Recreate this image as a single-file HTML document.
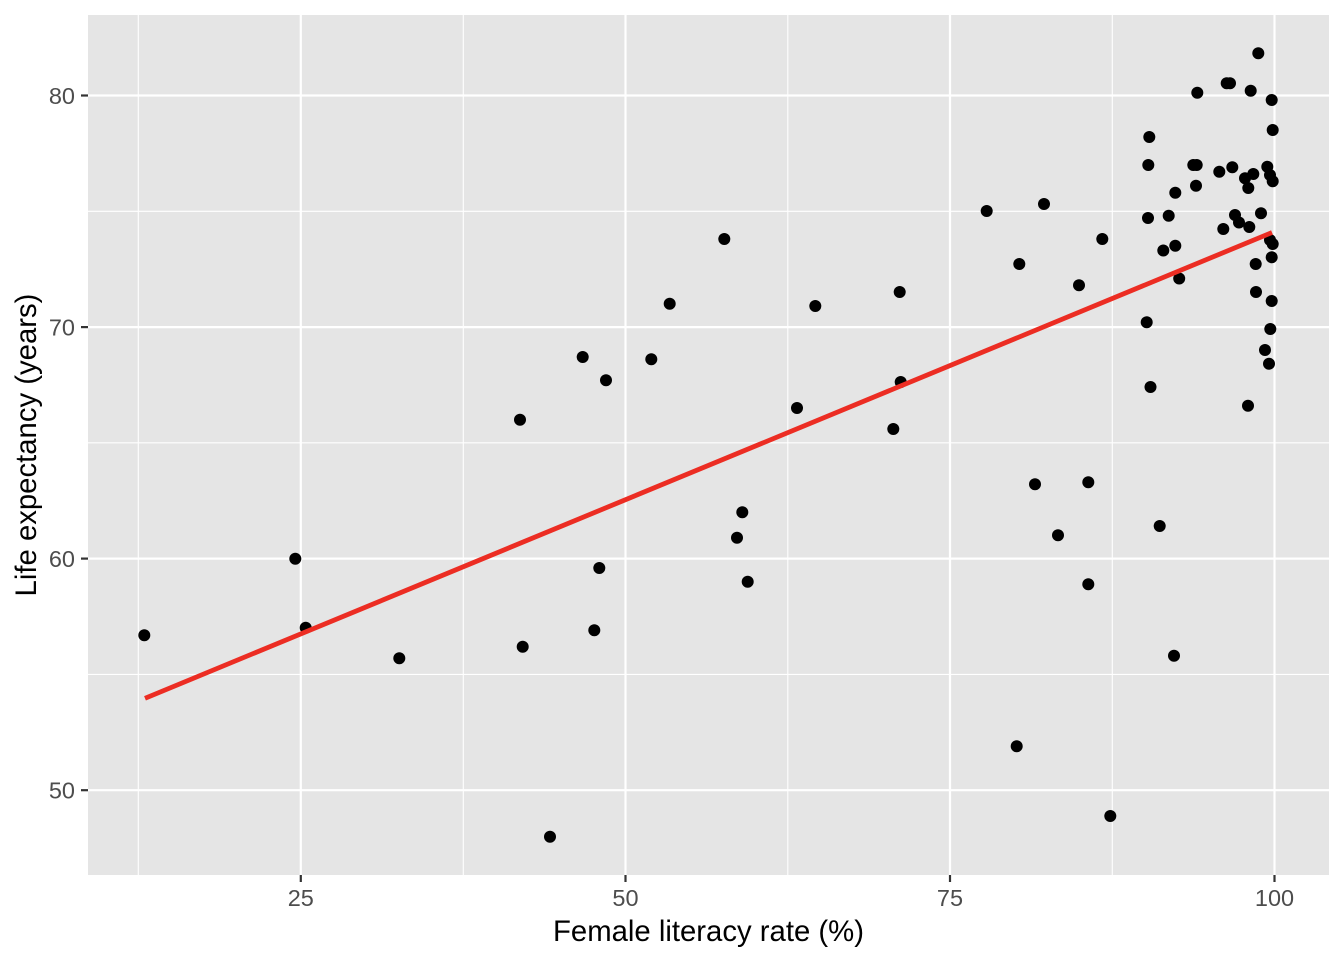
<!DOCTYPE html>
<html>
<head>
<meta charset="utf-8">
<style>
  html, body { margin: 0; padding: 0; background: #ffffff; }
  svg { display: block; }
  text { font-family: "Liberation Sans", Arial, sans-serif; }
</style>
</head>
<body>
<svg width="1344" height="960" viewBox="0 0 1344 960" xmlns="http://www.w3.org/2000/svg">
  <rect x="0" y="0" width="1344" height="960" fill="#ffffff"/>
  <rect x="88" y="15" width="1241" height="860" fill="#E5E5E5"/>
  <g stroke="#ffffff" stroke-width="1.1">
    <line x1="138.3" y1="15" x2="138.3" y2="875"/>
    <line x1="463.3" y1="15" x2="463.3" y2="875"/>
    <line x1="787.8" y1="15" x2="787.8" y2="875"/>
    <line x1="1112.3" y1="15" x2="1112.3" y2="875"/>
    <line x1="88" y1="211.3" x2="1329" y2="211.3"/>
    <line x1="88" y1="442.8" x2="1329" y2="442.8"/>
    <line x1="88" y1="674.4" x2="1329" y2="674.4"/>
  </g>
  <g stroke="#ffffff" stroke-width="2.2">
    <line x1="300.8" y1="15" x2="300.8" y2="875"/>
    <line x1="625.5" y1="15" x2="625.5" y2="875"/>
    <line x1="950" y1="15" x2="950" y2="875"/>
    <line x1="1274.5" y1="15" x2="1274.5" y2="875"/>
    <line x1="88" y1="95.5" x2="1329" y2="95.5"/>
    <line x1="88" y1="327.1" x2="1329" y2="327.1"/>
    <line x1="88" y1="558.6" x2="1329" y2="558.6"/>
    <line x1="88" y1="790.2" x2="1329" y2="790.2"/>
  </g>
  <g fill="#000000">
    <circle cx="144.3" cy="635.3" r="6"/>
    <circle cx="295.3" cy="558.7" r="6"/>
    <circle cx="305.7" cy="627.7" r="6"/>
    <circle cx="399.3" cy="658.3" r="6"/>
    <circle cx="520.0" cy="419.7" r="6"/>
    <circle cx="522.7" cy="646.7" r="6"/>
    <circle cx="550.0" cy="836.7" r="6"/>
    <circle cx="582.7" cy="357.0" r="6"/>
    <circle cx="594.3" cy="630.3" r="6"/>
    <circle cx="599.3" cy="568.0" r="6"/>
    <circle cx="606.0" cy="380.3" r="6"/>
    <circle cx="651.3" cy="359.3" r="6"/>
    <circle cx="669.7" cy="303.7" r="6"/>
    <circle cx="724.3" cy="239.0" r="6"/>
    <circle cx="737.0" cy="537.7" r="6"/>
    <circle cx="742.3" cy="512.3" r="6"/>
    <circle cx="747.7" cy="581.7" r="6"/>
    <circle cx="797.0" cy="408.0" r="6"/>
    <circle cx="815.3" cy="306.0" r="6"/>
    <circle cx="893.3" cy="429.0" r="6"/>
    <circle cx="899.7" cy="292.0" r="6"/>
    <circle cx="900.7" cy="382.0" r="6"/>
    <circle cx="986.7" cy="211.0" r="6"/>
    <circle cx="1016.7" cy="746.3" r="6"/>
    <circle cx="1019.3" cy="264.0" r="6"/>
    <circle cx="1035.0" cy="484.3" r="6"/>
    <circle cx="1044.0" cy="204.0" r="6"/>
    <circle cx="1058.0" cy="535.3" r="6"/>
    <circle cx="1079.0" cy="285.3" r="6"/>
    <circle cx="1088.3" cy="482.3" r="6"/>
    <circle cx="1088.3" cy="584.3" r="6"/>
    <circle cx="1102.3" cy="239.0" r="6"/>
    <circle cx="1110.3" cy="816.0" r="6"/>
    <circle cx="1146.7" cy="322.3" r="6"/>
    <circle cx="1150.5" cy="387.0" r="6"/>
    <circle cx="1159.7" cy="526.0" r="6"/>
    <circle cx="1174.0" cy="655.7" r="6"/>
    <circle cx="1148.0" cy="218.0" r="6"/>
    <circle cx="1168.7" cy="215.7" r="6"/>
    <circle cx="1175.3" cy="192.7" r="6"/>
    <circle cx="1163.3" cy="250.5" r="6"/>
    <circle cx="1175.3" cy="245.7" r="6"/>
    <circle cx="1179.2" cy="278.5" r="6"/>
    <circle cx="1149.3" cy="137.0" r="6"/>
    <circle cx="1148.3" cy="165.0" r="6"/>
    <circle cx="1193.3" cy="165.0" r="6"/>
    <circle cx="1196.7" cy="165.0" r="6"/>
    <circle cx="1196.0" cy="185.7" r="6"/>
    <circle cx="1197.3" cy="92.7" r="6"/>
    <circle cx="1226.7" cy="83.3" r="6"/>
    <circle cx="1230.0" cy="83.3" r="6"/>
    <circle cx="1250.7" cy="90.7" r="6"/>
    <circle cx="1258.3" cy="53.3" r="6"/>
    <circle cx="1271.7" cy="100.0" r="6"/>
    <circle cx="1272.7" cy="130.0" r="6"/>
    <circle cx="1219.3" cy="171.7" r="6"/>
    <circle cx="1232.3" cy="167.3" r="6"/>
    <circle cx="1253.3" cy="174.0" r="6"/>
    <circle cx="1245.0" cy="178.3" r="6"/>
    <circle cx="1248.3" cy="188.0" r="6"/>
    <circle cx="1267.3" cy="166.7" r="6"/>
    <circle cx="1270.0" cy="175.0" r="6"/>
    <circle cx="1272.7" cy="181.3" r="6"/>
    <circle cx="1235.0" cy="215.0" r="6"/>
    <circle cx="1239.0" cy="222.5" r="6"/>
    <circle cx="1261.0" cy="213.3" r="6"/>
    <circle cx="1223.3" cy="229.0" r="6"/>
    <circle cx="1249.3" cy="227.0" r="6"/>
    <circle cx="1270.0" cy="240.0" r="6"/>
    <circle cx="1272.7" cy="244.0" r="6"/>
    <circle cx="1271.7" cy="257.3" r="6"/>
    <circle cx="1255.7" cy="264.0" r="6"/>
    <circle cx="1256.0" cy="292.0" r="6"/>
    <circle cx="1271.7" cy="301.0" r="6"/>
    <circle cx="1270.3" cy="329.0" r="6"/>
    <circle cx="1265.0" cy="350.0" r="6"/>
    <circle cx="1269.0" cy="363.7" r="6"/>
    <circle cx="1248.0" cy="405.7" r="6"/>
  </g>
  <line x1="145" y1="698.3" x2="1272" y2="232.5" stroke="#EC2D23" stroke-width="4.8"/>
  <g stroke="#333333" stroke-width="2.2">
    <line x1="81" y1="95.5" x2="88" y2="95.5"/>
    <line x1="81" y1="327.1" x2="88" y2="327.1"/>
    <line x1="81" y1="558.6" x2="88" y2="558.6"/>
    <line x1="81" y1="790.2" x2="88" y2="790.2"/>
    <line x1="300.8" y1="875" x2="300.8" y2="882"/>
    <line x1="625.5" y1="875" x2="625.5" y2="882"/>
    <line x1="950" y1="875" x2="950" y2="882"/>
    <line x1="1274.5" y1="875" x2="1274.5" y2="882"/>
  </g>
  <g fill="#4D4D4D" font-size="23.5" text-anchor="end">
    <text x="75" y="103.9">80</text>
    <text x="75" y="335.5">70</text>
    <text x="75" y="567">60</text>
    <text x="75" y="798.6">50</text>
  </g>
  <g fill="#4D4D4D" font-size="23.5" text-anchor="middle">
    <text x="300.8" y="906">25</text>
    <text x="625.5" y="906">50</text>
    <text x="950" y="906">75</text>
    <text x="1274.5" y="906">100</text>
  </g>
  <text x="708.5" y="941" font-size="29.3" fill="#000000" text-anchor="middle">Female literacy rate (%)</text>
  <text transform="translate(36,445) rotate(-90)" font-size="29.3" fill="#000000" text-anchor="middle">Life expectancy (years)</text>
</svg>
</body>
</html>
